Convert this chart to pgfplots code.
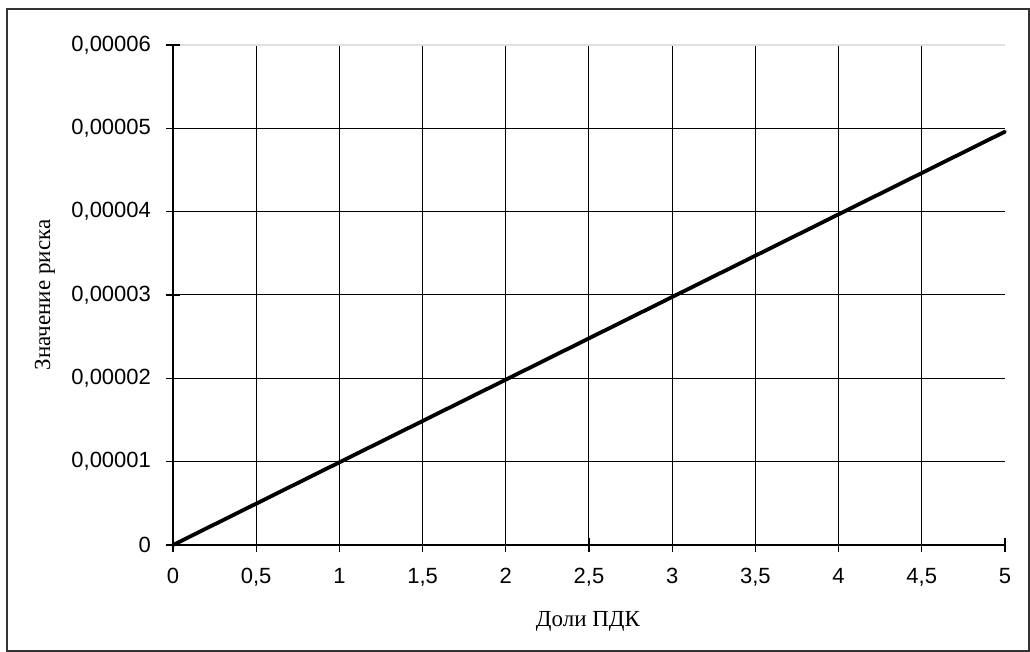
\documentclass[border=0pt]{standalone}
\usepackage{fontspec}
\setmainfont{Liberation Serif}
\newfontfamily\arialf{Liberation Sans}
\usepackage{pgfplots}
\pgfplotsset{compat=1.18}
\begin{document}
\begin{tikzpicture}
\useasboundingbox (-86.5pt,-53.5pt) rectangle (428.5pt,272.5pt);
\draw[line width=0.9pt, black!80] (-83pt,-53pt) rectangle (428pt,268pt);
\begin{axis}[
  scale only axis,
  width=416pt, height=250pt,
  xmin=0, xmax=5, ymin=0, ymax=0.00006,
  axis x line*=bottom, axis y line*=left,
  axis line style={black, line width=0.6pt},
  xtick={0,0.5,...,4.5},
  ytick={0,0.00001,0.00002,0.00003,0.00004,0.00005},
  yticklabels={0,0{,}00001,0{,}00002,0{,}00003,0{,}00004,0{,}00005},
  xticklabels={0,0{,}5,1,1{,}5,2,2{,}5,3,3{,}5,4,4{,}5},
  extra x ticks={5}, extra x tick labels={5},
  extra x tick style={grid=none},
  extra y ticks={0.00006}, extra y tick labels={0{,}00006},
  extra y tick style={major grid style={black!12, line width=0.6pt}},
  scaled y ticks=false,
  tick align=center, major tick length=7pt,
  tick style={black, line width=0.6pt},
  grid=major,
  major grid style={black, line width=0.5pt},
  ticklabel style={font=\arialf\fontsize{11}{13}\selectfont},
  yticklabel style={xshift=-4pt},
  xticklabel style={yshift=-4.5pt},
  xlabel={Доли ПДК},
  ylabel={Значение риска},
  label style={font=\fontsize{11.5}{14}\selectfont},
  xlabel style={at={(axis description cs:0.4988,-0.152)}, anchor=center},
  ylabel style={at={(axis description cs:-0.1538,0.5)}, anchor=center},
  clip=false,
]
\addplot[black, line width=1.9pt, line cap=round] coordinates {
  (0,0) (0.5,0.00000496) (1,0.00000992) (1.5,0.00001488) (2,0.00001984)
  (2.5,0.0000248) (3,0.00002976) (3.5,0.00003472) (4,0.00003968)
  (4.5,0.00004464) (5,0.0000496)
};
\end{axis}
\end{tikzpicture}
\end{document}
